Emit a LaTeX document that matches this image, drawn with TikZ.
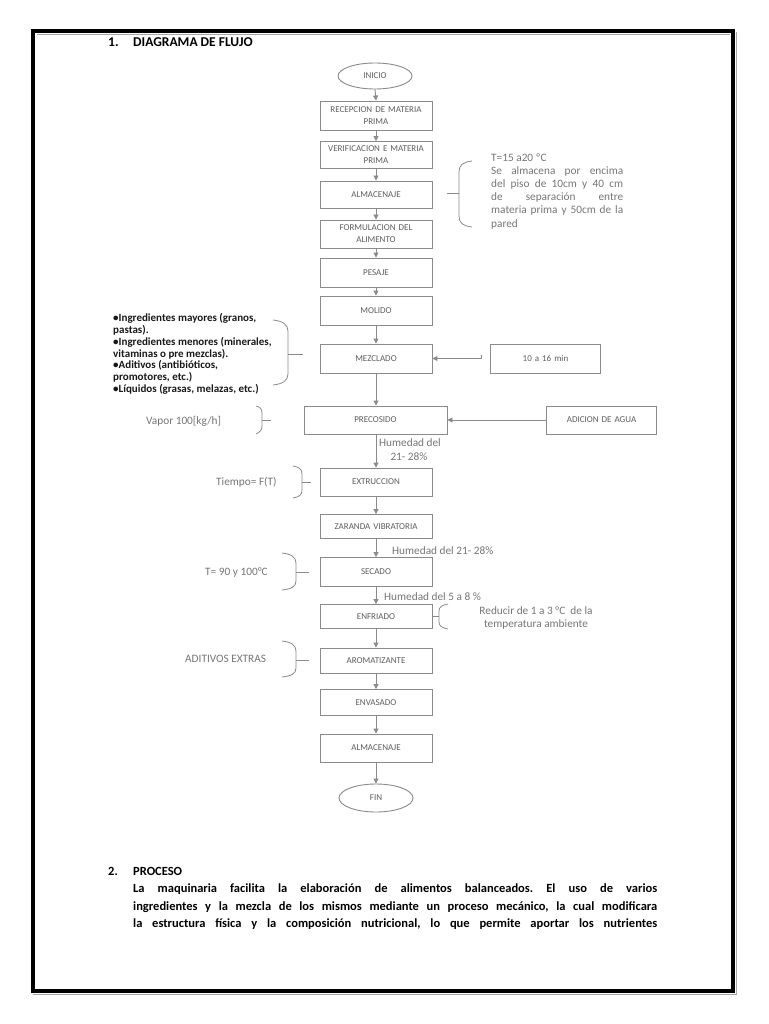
\documentclass[tikz,border=0pt]{standalone}
\usepackage{fontspec}
\setmainfont{Carlito}
\usetikzlibrary{shapes.geometric,arrows.meta}
\definecolor{boxgray}{HTML}{8A8A8A}
\definecolor{txtgray}{HTML}{5E5E5E}
\definecolor{notegray}{HTML}{767676}
\frenchspacing
\begin{document}
\begin{tikzpicture}[x=1pt,y=-1pt,
  stepbox/.style={draw=boxgray, line width=0.9pt, minimum width=112pt, minimum height=29pt,
    inner sep=1pt, text width=108pt, align=center, text=txtgray,
    font=\fontsize{9}{12}\selectfont},
  term/.style={ellipse, draw=boxgray, line width=0.9pt, minimum width=74pt, minimum height=26pt,
    inner sep=0pt, text=txtgray, font=\fontsize{9}{11}\selectfont},
  arr/.style={draw=boxgray, line width=0.9pt, -{Triangle[width=5pt,length=5pt]}},
  bracestyle/.style={draw=boxgray, line width=0.8pt},
  note/.style={text=notegray, font=\fontsize{11.3}{13}\selectfont, inner sep=0pt},
  listtxt/.style={text=black!90, font=\fontsize{11}{11.7}\selectfont\bfseries, inner sep=0pt},
  head/.style={text=black, font=\fontsize{12.5}{15}\selectfont\bfseries, inner sep=0pt},
  headbig/.style={text=black, font=\fontsize{13.5}{15}\selectfont\bfseries, inner sep=0pt},
]
\useasboundingbox (0,0) rectangle (768,1024);
\fill[white] (0,0) rectangle (768,1024);

% page frame
\draw[black, line width=3.6pt] (33,31) rectangle (733,991);
\draw[gray!70, line width=0.8pt] (36.5,34) -- (729.5,34);
\draw[gray!70, line width=0.8pt] (736,32) -- (736,994) -- (33,994);

% headings
\node[headbig, anchor=base west] (h1n) at (108,47) {1.};
\node[headbig, anchor=base west] (h1t) at (133,47) {DIAGRAMA DE FLUJO};

% main flow
\node[term] (inicio) at (375,76) {INICIO};
\node[stepbox] (rec) at (376,115.5) {RECEPCION DE MATERIA\\PRIMA};
\node[stepbox, minimum height=27pt] (ver) at (376,155) {VERIFICACION E MATERIA\\PRIMA};
\node[stepbox, minimum height=27pt] (alm1) at (376,194.5) {ALMACENAJE};
\node[stepbox, minimum height=28pt] (form) at (376,234) {FORMULACION DEL\\ALIMENTO};
\node[stepbox] (pes) at (376,272.5) {PESAJE};
\node[stepbox] (mol) at (376,310.5) {MOLIDO};
\node[stepbox] (mez) at (376,358.5) {MEZCLADO};
\node[stepbox, minimum width=143pt, minimum height=28pt, text width=138pt] (pre) at (375.5,420) {PRECOSIDO};
\node[stepbox, minimum height=28pt] (ext) at (376,482) {EXTRUCCION};
\node[stepbox, minimum height=24pt] (zar) at (376,526.5) {ZARANDA VIBRATORIA};
\node[stepbox] (sec) at (376,572) {SECADO};
\node[stepbox, minimum height=24pt] (enf) at (376,616.5) {ENFRIADO};
\node[stepbox, minimum height=25pt] (aro) at (376,660.5) {AROMATIZANTE};
\node[stepbox, minimum height=26pt] (env) at (376,702.5) {ENVASADO};
\node[stepbox, minimum height=28pt] (alm2) at (376,748) {ALMACENAJE};
\node[term, minimum height=28pt] (fin) at (376,798) {FIN};

% side inputs
\node[stepbox, minimum width=110pt, text width=106pt] (min10) at (545.5,358.5) {10 a 16 min};
\node[stepbox, minimum width=110pt, text width=106pt, minimum height=28pt] (agua) at (601.5,420) {ADICION DE AGUA};

% vertical arrows
\draw[arr] (inicio.south) -- (rec.north);
\draw[arr] (rec) -- (ver);
\draw[arr] (ver) -- (alm1);
\draw[arr] (alm1) -- (form);
\draw[arr] (form) -- (pes);
\draw[arr] (pes) -- (mol);
\draw[arr] (mol) -- (mez);
\draw[arr] (mez.south) -- (mez.south |- pre.north);
\draw[arr] (mez.south |- pre.south) -- (ext.north);
\draw[arr] (ext) -- (zar);
\draw[arr] (zar) -- (sec);
\draw[arr] (sec) -- (enf);
\draw[arr] (enf) -- (aro);
\draw[arr] (aro) -- (env);
\draw[arr] (env) -- (alm2);
\draw[arr] (alm2.south) -- (fin.north);

% horizontal arrows
\coordinate (m10s) at ([xshift=-9pt]min10.west);
\draw[arr] ([yshift=4pt]m10s) -- (m10s) -- (mez.east);
\draw[arr] (agua.west) -- (pre.east);

% notes: almacenaje
\draw[bracestyle] (472,161) .. controls (463,162) and (459,165) .. (459,172) -- (459,216)
  .. controls (459,223) and (463,226) .. (472,227);
\draw[bracestyle] (447,193.5) -- (459,193.5);
\node[note, anchor=base west] (n1) at (491,162) {T=15 a20 ºC};
\node[note, anchor=base west] (n2) at (491,175) {\makebox[132pt][s]{Se almacena por encima}};
\node[note, anchor=base west] (n3) at (491,188) {\makebox[132pt][s]{del piso de 10cm y 40 cm}};
\node[note, anchor=base west] (n4) at (491,201) {\makebox[132pt][s]{de separación entre}};
\node[note, anchor=base west] (n5) at (491,214) {\makebox[132pt][s]{materia prima y 50cm de la}};
\node[note, anchor=base west] (n6) at (491,227) {pared};

% notes: ingredients list
\draw[bracestyle] (273,320) .. controls (282,321) and (288,324) .. (288,331) -- (288,374)
  .. controls (288,381) and (282,384) .. (273,385);
\draw[bracestyle] (288,354) -- (303,354);
\node[listtxt, anchor=base west] (l1) at (113,321) {•Ingredientes mayores (granos,};
\node[listtxt, anchor=base west] (l2) at (113,333) {pastas).};
\node[listtxt, anchor=base west] (l3) at (113,345) {•Ingredientes menores (minerales,};
\node[listtxt, anchor=base west] (l4) at (113,357) {vitaminas o pre mezclas).};
\node[listtxt, anchor=base west] (l5) at (113,368.5) {•Aditivos (antibióticos,};
\node[listtxt, anchor=base west] (l6) at (113,380) {promotores, etc.)};
\node[listtxt, anchor=base west] (l7) at (113,392) {•Líquidos (grasas, melazas, etc.)};

% notes: vapor
\draw[bracestyle] (256,406) .. controls (260,407) and (262,409) .. (262,413) -- (262,426)
  .. controls (262,430) and (260,432) .. (256,434);
\draw[bracestyle] (262,420) -- (271,420);
\node[note, anchor=base west] (vap) at (146,424) {Vapor 100[kg/h]};
\node[note, anchor=base] (hum1a) at (410,446) {Humedad del};
\node[note, anchor=base] (hum1b) at (409,460) {21- 28\%};

% notes: extruccion
\draw[bracestyle] (293,466) .. controls (299,467) and (302,469) .. (302,474) -- (302,490)
  .. controls (302,495) and (299,497) .. (293,498);
\draw[bracestyle] (302,482) -- (311,482);
\node[note, anchor=base west] (tie) at (216,485) {Tiempo= F(T)};

\node[note, anchor=base west] (hum2) at (392,554) {Humedad del 21- 28\%};

% notes: secado
\draw[bracestyle] (282,553) .. controls (291,554) and (296,557) .. (296,563) -- (296,581)
  .. controls (296,587) and (291,589) .. (282,590);
\draw[bracestyle] (296,572) -- (309,572);
\node[note, anchor=base west] (tsec) at (205,575) {T= 90 y 100°C};

\node[note, anchor=base west] (hum3) at (384,600) {Humedad del 5 a 8 \%};

% notes: enfriado
\draw[bracestyle] (448,604) .. controls (442,605) and (439,607) .. (439,611) -- (439,622)
  .. controls (439,626) and (442,628) .. (448,629);
\draw[bracestyle] (enf.east) -- (439,616.5);
\node[note, anchor=base] (red1) at (536,614) {Reducir de 1 a 3 °C \ de la};
\node[note, anchor=base] (red2) at (536,627) {temperatura ambiente};

% notes: aromatizante
\draw[bracestyle] (282,641) .. controls (291,642) and (296,645) .. (296,651) -- (296,668)
  .. controls (296,674) and (291,676) .. (282,677);
\draw[bracestyle] (296,660) -- (309,660);
\node[note, anchor=base west] (adit) at (185,662) {ADITIVOS EXTRAS};

% section 2
\node[head, anchor=base west] (h2n) at (108,875) {2.};
\node[head, anchor=base west] (h2t) at (133,875) {PROCESO};
\node[head, anchor=base west] (p1) at (133,892.5) {\makebox[524pt][s]{La maquinaria facilita la elaboración de alimentos balanceados. El uso de varios}};
\node[head, anchor=base west] (p2) at (133,910) {\makebox[524pt][s]{ingredientes y la mezcla de los mismos mediante un proceso mecánico, la cual modificara}};
\node[head, anchor=base west] (p3) at (133,927.5) {\makebox[524pt][s]{la estructura física y la composición nutricional, lo que permite aportar los nutrientes}};
\end{tikzpicture}
\end{document}
